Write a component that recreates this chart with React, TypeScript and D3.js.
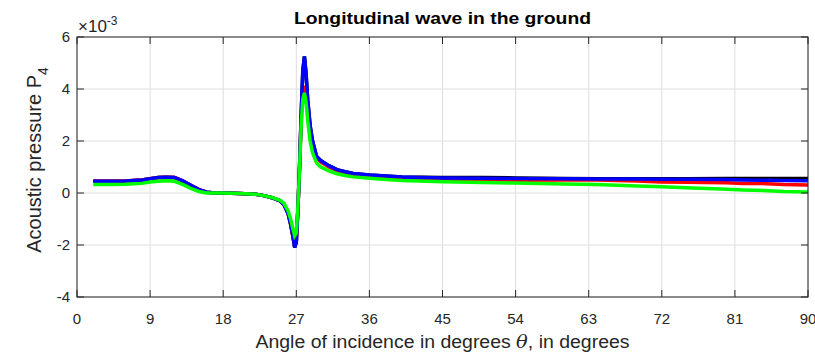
import React from "react";
import * as d3 from "d3";

const angles = [2, 4, 6, 8, 9, 10, 11, 12, 13, 14, 15, 16, 17, 18, 20, 22, 23, 24, 25, 25.5, 26, 26.3, 26.6, 26.8, 27, 27.2, 27.4, 27.6, 27.8, 28, 28.2, 28.4, 28.7, 29, 29.5, 30, 31, 32, 33, 34, 36, 38, 40, 45, 50, 54, 60, 64, 69, 72, 75, 80, 82, 85, 87, 90];

const blackVals = [0.45, 0.45, 0.46, 0.5, 0.55, 0.6, 0.61, 0.6, 0.47, 0.3, 0.13, 0.03, 0.0, 0.0, -0.02, -0.05, -0.1, -0.18, -0.3, -0.45, -0.8, -1.2, -1.7, -2.1, -1.9, -0.6, 1.0, 3.0, 4.7, 5.25, 4.6, 3.6, 2.6, 2.0, 1.4, 1.25, 1.05, 0.9, 0.82, 0.75, 0.69, 0.65, 0.62, 0.6, 0.6, 0.58, 0.56, 0.55, 0.55, 0.55, 0.55, 0.56, 0.56, 0.56, 0.56, 0.56];
const blueVals = [0.45, 0.45, 0.46, 0.5, 0.55, 0.6, 0.61, 0.6, 0.47, 0.3, 0.13, 0.03, 0.0, 0.0, -0.02, -0.05, -0.1, -0.18, -0.3, -0.45, -0.8, -1.2, -1.7, -2.1, -1.9, -0.6, 1.0, 3.0, 4.7, 5.25, 4.6, 3.6, 2.6, 2.0, 1.4, 1.25, 1.05, 0.9, 0.82, 0.75, 0.69, 0.65, 0.62, 0.58, 0.57, 0.56, 0.55, 0.54, 0.54, 0.53, 0.53, 0.52, 0.5, 0.49, 0.48, 0.47];
const redVals = [0.45, 0.45, 0.46, 0.5, 0.55, 0.6, 0.61, 0.6, 0.47, 0.3, 0.13, 0.03, 0.0, 0.0, -0.02, -0.05, -0.1, -0.18, -0.3, -0.45, -0.8, -1.2, -1.7, -2.05, -1.85, -0.6, 1.0, 2.8, 3.9, 4.0, 3.8, 3.2, 2.4, 1.9, 1.35, 1.2, 1.0, 0.86, 0.78, 0.72, 0.66, 0.62, 0.58, 0.54, 0.5, 0.49, 0.5, 0.5, 0.46, 0.42, 0.41, 0.39, 0.37, 0.36, 0.33, 0.31];
const greenVals = [0.33, 0.33, 0.34, 0.37, 0.42, 0.45, 0.47, 0.45, 0.33, 0.18, 0.06, 0.0, 0.0, 0.0, -0.02, -0.05, -0.1, -0.17, -0.28, -0.4, -0.7, -1.0, -1.4, -1.65, -1.55, -0.5, 0.9, 2.6, 3.6, 3.85, 3.5, 2.8, 2.0, 1.55, 1.15, 1.0, 0.85, 0.74, 0.67, 0.62, 0.57, 0.52, 0.48, 0.43, 0.4, 0.38, 0.35, 0.33, 0.27, 0.24, 0.2, 0.14, 0.12, 0.09, 0.06, 0.04];

const xTicks = [0, 9, 18, 27, 36, 45, 54, 63, 72, 81, 90];
const yTicks = [-4, -2, 0, 2, 4, 6];

const series = [
  { name: "black", color: "#000000", values: blackVals },
  { name: "red", color: "#ff0000", values: redVals },
  { name: "blue", color: "#0000ff", values: blueVals },
  { name: "green", color: "#00ff00", values: greenVals },
];

export default function App() {
  const W = 815, H = 352;
  const left = 77, right = 808, top = 37, bottom = 297;
  const x = d3.scaleLinear().domain([0, 90]).range([left, right]);
  const y = d3.scaleLinear().domain([-4, 6]).range([bottom, top]);
  const line = (vals: number[]) =>
    d3.line<number>().x((_, i) => x(angles[i])).y((v) => y(v))(vals) || "";
  const font = "Liberation Sans, Arial, Helvetica, sans-serif";
  const axisColor = "#262626";
  return (
    <svg width={W} height={H} style={{ position: "absolute", left: 0, top: 0, background: "#fff" }} fontFamily={font}>
      <rect x={0} y={0} width={W} height={H} fill="#fff" />
      {xTicks.map((t) => (
        <line key={"gx" + t} x1={x(t)} x2={x(t)} y1={top} y2={bottom} stroke="#dedede" strokeWidth={1} />
      ))}
      {yTicks.map((t) => (
        <line key={"gy" + t} x1={left} x2={right} y1={y(t)} y2={y(t)} stroke="#dedede" strokeWidth={1} />
      ))}
      <g fill="none" strokeLinejoin="miter" strokeLinecap="butt">
        {series.map((s) => (
          <path key={s.name} d={line(s.values)} stroke={s.color} strokeWidth={3.5} />
        ))}
      </g>
      <rect x={left} y={top} width={right - left} height={bottom - top} fill="none" stroke={axisColor} strokeWidth={1} />
      {xTicks.map((t) => (
        <g key={"tx" + t}>
          <line x1={x(t)} x2={x(t)} y1={bottom} y2={bottom - 7} stroke={axisColor} />
          <line x1={x(t)} x2={x(t)} y1={top} y2={top + 7} stroke={axisColor} />
          <text x={x(t)} y={bottom + 27} fontSize={15} textAnchor="middle" fill={axisColor}>{t}</text>
        </g>
      ))}
      {yTicks.map((t) => (
        <g key={"ty" + t}>
          <line x1={left} x2={left + 7} y1={y(t)} y2={y(t)} stroke={axisColor} />
          <line x1={right} x2={right - 7} y1={y(t)} y2={y(t)} stroke={axisColor} />
          <text x={left - 7} y={y(t) + 5} fontSize={15} textAnchor="end" fill={axisColor}>{t}</text>
        </g>
      ))}
      <text x={78} y={32} fontSize={17} fill={axisColor}>
        {"\u00d710"}
        <tspan dy={-7} fontSize={12}>-3</tspan>
      </text>
      <text x={(left + right) / 2} y={24} fontSize={17} fontWeight="bold" textAnchor="middle" fill="#000" textLength={297} lengthAdjust="spacingAndGlyphs">
        Longitudinal wave in the ground
      </text>
      <text x={(left + right) / 2} y={348} fontSize={18} textAnchor="middle" fill={axisColor} textLength={374} lengthAdjust="spacingAndGlyphs">
        Angle of incidence in degrees <tspan fontFamily="DejaVu Serif, serif" fontStyle="italic">θ</tspan>, in degrees
      </text>
      <text transform={`translate(41, 160) rotate(-90)`} fontSize={20} textAnchor="middle" fill={axisColor}>
        Acoustic pressure P<tspan dy={7} fontSize={14}>4</tspan>
      </text>
    </svg>
  );
}
